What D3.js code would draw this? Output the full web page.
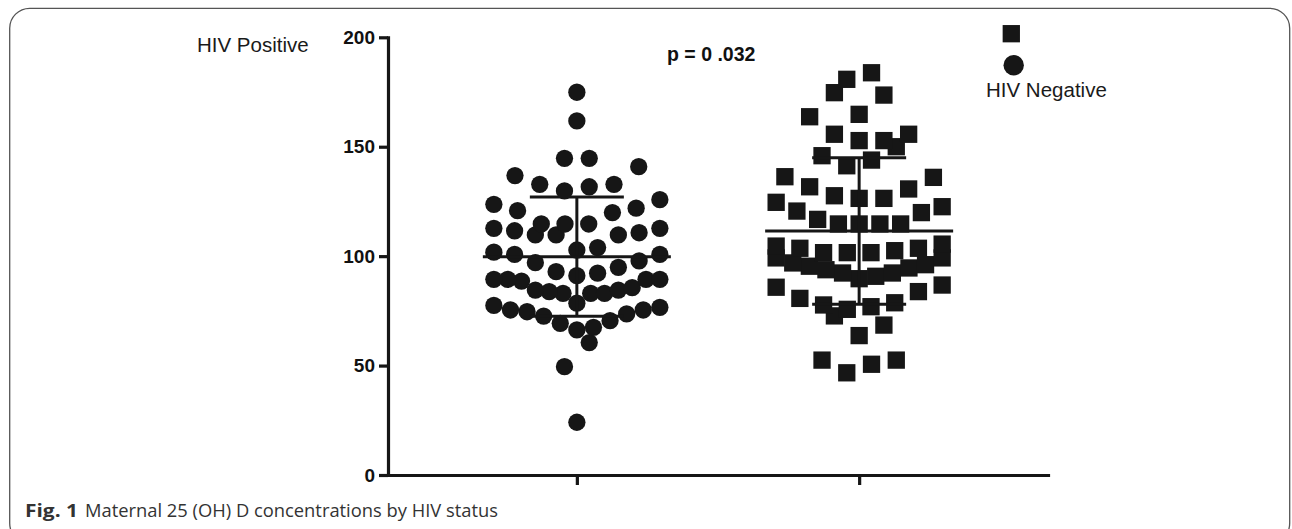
<!DOCTYPE html>
<html>
<head>
<meta charset="utf-8">
<script src="https://cdn.jsdelivr.net/npm/d3@7"></script>
<style>
  html, body { margin: 0; padding: 0; background: #fff; }
  svg { display: block; }
  text { font-family: "Liberation Sans", Arial, Helvetica, sans-serif; }
</style>
</head>
<body>
<svg id="chart" width="1292" height="529"></svg>
<script>
// values, 25 (OH) D concentration per woman
const groups = ['HIV Positive', 'HIV Negative'];

const hivPositive = [174.9, 161.8, 144.7, 144.7, 140.9, 136.8, 132.8, 131.7, 132.8, 129.8,
	125.8, 123.7, 121.9, 120.8, 119.9, 114.7, 114.7, 114.7, 112.7, 112.7, 111.6, 110.7,
	109.7, 109.7, 109.7, 103.9, 102.8, 101.8, 100.8, 100.8, 97.8, 97.0, 94.9, 92.9, 92.2,
	91.1, 89.4, 89.4, 89.4, 89.4, 88.6, 85.6, 84.5, 84.5, 83.8, 83.0, 83.0, 83.0, 78.5,
	77.5, 76.6, 75.4, 75.4, 74.6, 73.6, 72.6, 70.5, 69.3, 67.5, 66.3, 60.5, 49.5, 24.1];

const hivNegative = [183.8, 180.8, 174.7, 173.6, 164.8, 163.7, 155.7, 155.7, 152.8, 152.8,
	150.0, 145.9, 143.9, 141.3, 136.3, 136.0, 131.7, 130.7, 127.6, 126.4, 126.4, 124.6,
	122.6, 120.6, 119.9, 116.8, 114.7, 114.7, 114.7, 114.7, 105.5, 104.6, 103.6, 103.6,
	102.5, 101.6, 101.6, 101.6, 99.2, 99.2, 96.9, 96.1, 95.4, 94.6, 93.8, 92.3, 92.3, 90.8,
	89.7, 86.8, 85.8, 83.8, 80.7, 78.7, 77.7, 76.9, 75.7, 72.7, 68.5, 63.7, 52.5, 52.5,
	50.6, 46.7];

const yTicks = [0, 50, 100, 150, 200];
const pLabel = 'p = 0 .032';
const captionBold = 'Fig. 1';
const captionText = 'Maternal 25 (OH) D concentrations by HIV status';

const ink = '#161616';
const svg = d3.select('#chart');

const y = d3.scaleLinear().domain([0, 200]).range([475, 37.3]);
const x = d3.scalePoint().domain(groups).range([388, 1048]).padding(0.669);

const markSize = 17.3;
const step = 24.75;      // row height and max spacing (px)
const swarmWidth = 166;  // widest a row may get (px)

// prism-like scatter: bin into rows, spread each row around the centre
function swarm(values) {
	let sorted = values.slice().sort(d3.ascending);
	let rows = [];
	let row = null;
	sorted.forEach(v => {
		if (!row || y(row.start) - y(v) >= step) {
			row = {start: v, items: []};
			rows.push(row);
		}
		row.items.push(v);
	});

	let out = [];
	rows.forEach(r => {
		let n = r.items.length;
		let gap = n > 1 ? Math.min(step, swarmWidth / (n - 1)) : 0;
		r.items.forEach((v, i) => {
			let slot;
			if (n % 2) slot = i === 0 ? 0 : Math.ceil(i / 2) * (i % 2 ? 1 : -1);
			else slot = (Math.floor(i / 2) + 0.5) * (i % 2 ? 1 : -1);
			out.push({value: v, dx: slot * gap});
		});
	});
	return out;
}

// frame
svg.append('rect')
	.attr('x', 9.7).attr('y', 8.3)
	.attr('width', 1280).attr('height', 535)
	.attr('rx', 20)
	.attr('fill', 'none')
	.attr('stroke', '#555')
	.attr('stroke-width', 1.3);

// axes
let yAxis = svg.append('g')
	.attr('transform', 'translate(388,0)')
	.call(d3.axisLeft(y).tickValues(yTicks).tickSize(9).tickSizeOuter(0).tickPadding(4));

let xAxis = svg.append('g')
	.attr('transform', 'translate(0,475)')
	.call(d3.axisBottom(x).tickSize(10).tickSizeOuter(0).tickFormat(() => ''));

[yAxis, xAxis].forEach(g => {
	g.select('.domain').attr('stroke', ink).attr('stroke-width', 3.2).attr('stroke-linecap', 'square');
	g.selectAll('.tick line').attr('stroke', ink).attr('stroke-width', 3.2);
});
yAxis.selectAll('.tick text')
	.attr('fill', '#111')
	.style('font-size', '19px')
	.style('font-weight', 'bold');

// points
let posPts = swarm(hivPositive);
let negPts = swarm(hivNegative);

svg.append('g').selectAll('circle')
	.data(posPts)
	.enter()
	.append('circle')
	.attr('cx', d => x(groups[0]) + d.dx)
	.attr('cy', d => y(d.value))
	.attr('r', markSize / 2)
	.attr('fill', ink);

svg.append('g').selectAll('rect')
	.data(negPts)
	.enter()
	.append('rect')
	.attr('x', d => x(groups[1]) + d.dx - markSize / 2)
	.attr('y', d => y(d.value) - markSize / 2)
	.attr('width', markSize)
	.attr('height', markSize)
	.attr('fill', ink);

// mean +/- SD
let stats = [hivPositive, hivNegative].map((vals, i) => ({
	group: groups[i],
	mean: d3.mean(vals),
	sd: d3.deviation(vals)
}));

let bars = svg.append('g')
	.attr('stroke', ink)
	.attr('stroke-width', 3)
	.selectAll('g')
	.data(stats)
	.enter()
	.append('g');

bars.append('line')
	.attr('x1', d => x(d.group)).attr('x2', d => x(d.group))
	.attr('y1', d => y(d.mean + d.sd)).attr('y2', d => y(d.mean - d.sd));
bars.append('line')
	.attr('x1', d => x(d.group) - 94).attr('x2', d => x(d.group) + 94)
	.attr('y1', d => y(d.mean)).attr('y2', d => y(d.mean));
bars.append('line')
	.attr('x1', d => x(d.group) - 47).attr('x2', d => x(d.group) + 47)
	.attr('y1', d => y(d.mean + d.sd)).attr('y2', d => y(d.mean + d.sd));
bars.append('line')
	.attr('x1', d => x(d.group) - 47).attr('x2', d => x(d.group) + 47)
	.attr('y1', d => y(d.mean - d.sd)).attr('y2', d => y(d.mean - d.sd));

// labels
svg.append('text')
	.attr('x', 197).attr('y', 51.5)
	.attr('fill', '#1a1a1a')
	.style('font-size', '20.5px')
	.text(groups[0]);

svg.append('rect')
	.attr('x', 1011.3 - markSize / 2).attr('y', 33.7 - markSize / 2)
	.attr('width', markSize).attr('height', markSize)
	.attr('fill', ink);
svg.append('circle')
	.attr('cx', 1013.7).attr('cy', 65.3).attr('r', 10.2)
	.attr('fill', ink);
svg.append('text')
	.attr('x', 986).attr('y', 96.5)
	.attr('fill', '#1a1a1a')
	.style('font-size', '20.5px')
	.text(groups[1]);

svg.append('text')
	.attr('x', 667).attr('y', 60.5)
	.attr('fill', '#111')
	.style('font-size', '19.5px')
	.style('font-weight', 'bold')
	.text(pLabel);

// caption
svg.append('text')
	.attr('x', 25).attr('y', 516.5)
	.attr('fill', '#333')
	.attr('textLength', 53).attr('lengthAdjust', 'spacingAndGlyphs')
	.style('font-family', '"Open Sans", sans-serif')
	.style('font-size', '18.5px')
	.style('font-weight', 'bold')
	.text(captionBold);
svg.append('text')
	.attr('x', 85).attr('y', 516.5)
	.attr('fill', '#333')
	.attr('textLength', 413).attr('lengthAdjust', 'spacingAndGlyphs')
	.style('font-family', '"Open Sans", sans-serif')
	.style('font-size', '18.5px')
	.text(captionText);
</script>
</body>
</html>
